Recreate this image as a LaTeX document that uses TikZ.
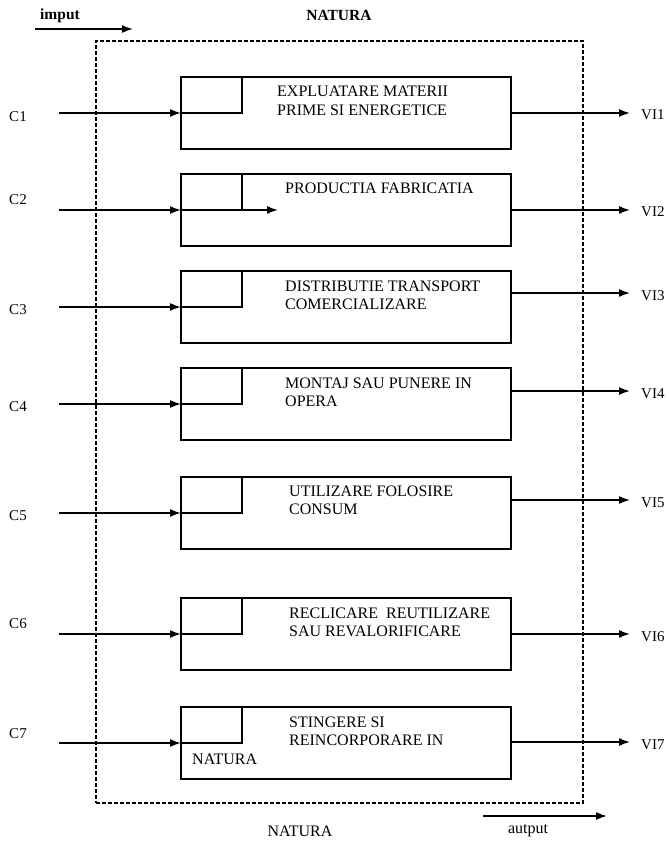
\documentclass[tikz,border=0pt]{standalone}
\usepackage{fontspec}
\setmainfont{Liberation Serif}
\usetikzlibrary{arrows.meta}
\tikzset{
  procbox/.style={draw, line width=1.6pt, minimum width=330pt, minimum height=72pt, inner sep=0pt, outer sep=0pt},
  flow/.style={line width=1.6pt, -{Latex[length=11pt,width=8pt]}},
  corner/.style={line width=1.6pt},
  boxtext/.style={anchor=west, align=left, inner sep=0pt, font=\fontsize{16}{18.5}\selectfont},
  lbl/.style={inner sep=0pt, font=\fontsize{15}{17}\selectfont},
  toptext/.style={inner sep=0pt, font=\fontsize{15.5}{18}\selectfont\bfseries}
}
\begin{document}
\begin{tikzpicture}[x=1pt,y=-1pt]
        \useasboundingbox (0,0) rectangle (669,841);
        \node[toptext] (imput) at (60,16) {imput};
        \node[toptext] (naturatop) at (339,15) {NATURA};
        \coordinate (imputs) at (35,29);
        \coordinate (imputd) at (133,29);
        \draw[flow] (imputs) -- (imputd);

        \node[draw, line width=1.4pt, dash pattern=on 4pt off 2pt, minimum width=487pt, minimum height=762pt, outer sep=0pt] (natura) at (339.5,422) {};

        \node[procbox] (b1) at (346,113) {};
        \node[procbox] (b2) at (346,210) {};
        \node[procbox] (b3) at (346,307) {};
        \node[procbox] (b4) at (346,404) {};
        \node[procbox] (b5) at (346,513) {};
        \node[procbox] (b6) at (346,634) {};
        \node[procbox] (b7) at (346,743) {};

        \node[boxtext] (t1) at (277,101) {EXPLUATARE MATERII\\PRIME SI ENERGETICE};
        \node[boxtext] (t2) at (285,188) {PRODUCTIA FABRICATIA};
        \node[boxtext] (t3) at (285,295.5) {DISTRIBUTIE TRANSPORT\\COMERCIALIZARE};
        \node[boxtext] (t4) at (285,392.5) {MONTAJ SAU PUNERE IN\\OPERA};
        \node[boxtext] (t5) at (289,500.5) {UTILIZARE FOLOSIRE\\CONSUM};
        \node[boxtext] (t6) at (289,622.5) {RECLICARE\ \ REUTILIZARE\\SAU REVALORIFICARE};
        \node[boxtext] (t7) at (289,731.5) {STINGERE SI\\REINCORPORARE IN};
        \node[boxtext] (t7b) at (192,759) {NATURA};

        \draw[corner] ([xshift=61pt]b1.north west) |- (b1.west);
        \draw[corner] ([xshift=61pt]b2.north west) -- ([xshift=61pt]b2.west);
        \draw[flow] (b2.west) -- ([xshift=97pt]b2.west);
        \draw[corner] ([xshift=61pt]b3.north west) |- (b3.west);
        \draw[corner] ([xshift=61pt]b4.north west) |- (b4.west);
        \draw[corner] ([xshift=61pt]b5.north west) |- (b5.west);
        \draw[corner] ([xshift=61pt]b6.north west) |- (b6.west);
        \draw[corner] ([xshift=61pt]b7.north west) |- (b7.west);

        \node[lbl] (c1) at (18,117) {C1};
        \node[lbl] (c2) at (18,200) {C2};
        \node[lbl] (c3) at (18,310) {C3};
        \node[lbl] (c4) at (18,407) {C4};
        \node[lbl] (c5) at (18,516) {C5};
        \node[lbl] (c6) at (18,624) {C6};
        \node[lbl] (c7) at (18,734) {C7};
        \coordinate (c1s) at (59,113);
        \coordinate (c2s) at (59,210);
        \coordinate (c3s) at (59,307);
        \coordinate (c4s) at (59,404);
        \coordinate (c5s) at (59,513);
        \coordinate (c6s) at (59,634);
        \coordinate (c7s) at (59,743);
        \draw[flow] (c1s) -- (b1.west);
        \draw[flow] (c2s) -- (b2.west);
        \draw[flow] (c3s) -- (b3.west);
        \draw[flow] (c4s) -- (b4.west);
        \draw[flow] (c5s) -- (b5.west);
        \draw[flow] (c6s) -- (b6.west);
        \draw[flow] (c7s) -- (b7.west);

        \coordinate (o1) at (630,113);
        \coordinate (o2) at (630,210);
        \coordinate (o3) at (630,293);
        \coordinate (o4) at (630,391);
        \coordinate (o5) at (630,500);
        \coordinate (o6) at (630,634);
        \coordinate (o7) at (630,742);
        \draw[flow] (b1.east) -- (o1);
        \draw[flow] (b2.east) -- (o2);
        \draw[flow] (b3.east |- o3) -- (o3);
        \draw[flow] (b4.east |- o4) -- (o4);
        \draw[flow] (b5.east |- o5) -- (o5);
        \draw[flow] (b6.east) -- (o6);
        \draw[flow] (b7.east |- o7) -- (o7);
        \node[lbl, anchor=west] (vi1) at (641,115) {VI1};
        \node[lbl, anchor=west] (vi2) at (641,212) {VI2};
        \node[lbl, anchor=west] (vi3) at (641,296) {VI3};
        \node[lbl, anchor=west] (vi4) at (641,394) {VI4};
        \node[lbl, anchor=west] (vi5) at (641,503) {VI5};
        \node[lbl, anchor=west] (vi6) at (641,637) {VI6};
        \node[lbl, anchor=west] (vi7) at (641,745) {VI7};

        \node[boxtext, anchor=center] (naturabot) at (300,831) {NATURA};
        \coordinate (autputs) at (483,816);
        \coordinate (autputd) at (607,816);
        \draw[flow] (autputs) -- (autputd);
        \node[boxtext, anchor=center] (autput) at (528,831) {autput};
\end{tikzpicture}
\end{document}
